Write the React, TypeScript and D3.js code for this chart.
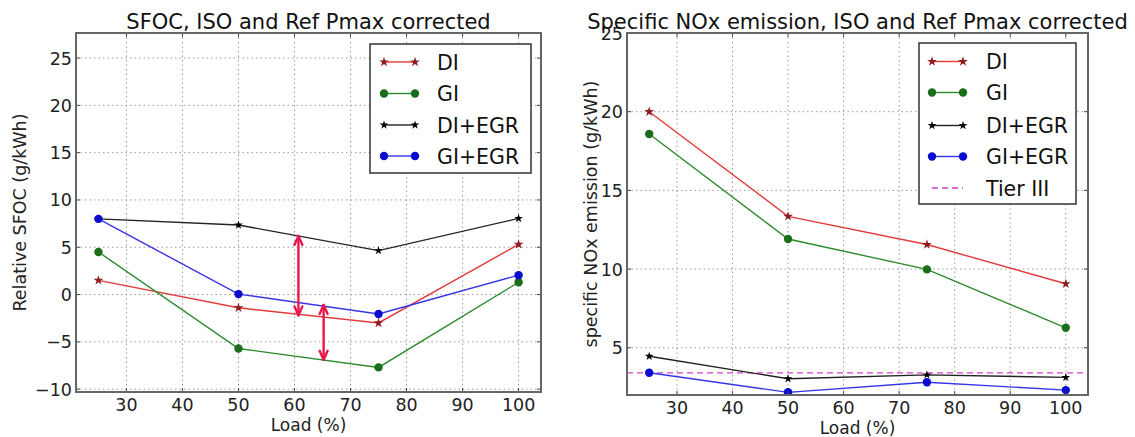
import React from "react";
import * as d3 from "d3";

const loads = [25, 50, 75, 100];
const xTicks = [30, 40, 50, 60, 70, 80, 90, 100];

// Left: relative SFOC
const sfocDI = [1.5, -1.4, -3.0, 5.3];
const sfocGI = [4.5, -5.7, -7.7, 1.3];
const sfocDIEGR = [8.0, 7.35, 4.65, 8.05];
const sfocGIEGR = [8.0, 0.05, -2.05, 2.05];
const sfocYTicks = [-10, -5, 0, 5, 10, 15, 20, 25];
const sfocArrows = [
  { x: 60.7, y1: 6.2, y2: -2.2 },
  { x: 65.2, y1: -1.1, y2: -6.9 },
];

// Right: specific NOx
const noxDI = [20.0, 13.35, 11.56, 9.07];
const noxGI = [18.58, 11.91, 9.98, 6.27];
const noxDIEGR = [4.46, 3.03, 3.28, 3.12];
const noxGIEGR = [3.41, 2.17, 2.81, 2.31];
const tierIII = 3.4;
const noxYTicks = [5, 10, 15, 20, 25];

const seriesNames = ["DI", "GI", "DI+EGR", "GI+EGR"];

const FONT = "DejaVu Sans, sans-serif";

type Style = { line: string; marker: string; kind: "star" | "circle"; size: number };
const styles: Style[] = [
  { line: "#e23a3a", marker: "#8e1c1c", kind: "star", size: 30 },
  { line: "#2b8a2b", marker: "#1a6e1a", kind: "circle", size: 4.2 },
  { line: "#222222", marker: "#000000", kind: "star", size: 24 },
  { line: "#3535e8", marker: "#0a0ad0", kind: "circle", size: 4.2 },
];

function Marker({ x, y, s }: { x: number; y: number; s: Style }) {
  if (s.kind === "circle") return <circle cx={x} cy={y} r={s.size} fill={s.marker} />;
  const p = d3.symbol().type(d3.symbolStar).size(s.size)() as string;
  return <path d={p} transform={`translate(${x},${y})`} fill={s.marker} />;
}

type PanelProps = {
  left: number; right: number; top: number; bottom: number;
  yDomain: [number, number];
  yTicks: number[];
  series: number[][];
  title: string;
  yLabel: string;
  yLabelX: number;
  legend: { x: number; y: number; w: number; h: number; lineX: number; textX: number; rows: number[] };
  tier?: number;
  arrows?: { x: number; y1: number; y2: number }[];
  titleY: number;
};

function Panel(p: PanelProps) {
  const x = d3.scaleLinear().domain([21, 104]).range([p.left, p.right]);
  const y = d3.scaleLinear().domain(p.yDomain).range([p.bottom, p.top]);
  const lineGen = d3.line<number>().x((_, i) => x(loads[i])).y((d) => y(d));
  const fmt = (v: number) => (v < 0 ? "\u2212" + Math.abs(v) : String(v));
  const cx = (p.left + p.right) / 2;
  const cy = (p.top + p.bottom) / 2;
  const clipId = "clip" + p.left;
  return (
    <g fontFamily={FONT}>
      <defs>
        <clipPath id={clipId}>
          <rect x={p.left} y={p.top} width={p.right - p.left} height={p.bottom - p.top} />
        </clipPath>
      </defs>
      {/* grid */}
      {xTicks.map((t) => (
        <line key={"gx" + t} x1={x(t)} x2={x(t)} y1={p.top} y2={p.bottom} stroke="#9a9a9a" strokeWidth={1} strokeDasharray="1.5,3" />
      ))}
      {p.yTicks.map((t) => (
        <line key={"gy" + t} x1={p.left} x2={p.right} y1={y(t)} y2={y(t)} stroke="#9a9a9a" strokeWidth={1} strokeDasharray="1.5,3" />
      ))}
      <g clipPath={`url(#${clipId})`}>
        {p.tier !== undefined && (
          <line x1={p.left} x2={p.right} y1={y(p.tier)} y2={y(p.tier)} stroke="#d040d0" strokeWidth={1.3} strokeDasharray="6,4" />
        )}
        {p.series.map((s, i) => (
          <path key={"l" + i} d={lineGen(s) as string} fill="none" stroke={styles[i].line} strokeWidth={1.4} />
        ))}
        {p.series.map((s, i) =>
          s.map((v, j) => <Marker key={`m${i}-${j}`} x={x(loads[j])} y={y(v)} s={styles[i]} />)
        )}
        {p.arrows &&
          p.arrows.map((a, i) => {
            const ax = x(a.x);
            const ya = y(a.y1);
            const yb = y(a.y2);
            return (
              <g key={"a" + i} stroke="#e8174b" strokeWidth={2.4} fill="none" strokeLinecap="round" strokeLinejoin="round">
                <line x1={ax} x2={ax} y1={ya} y2={yb} />
                <polyline points={`${ax - 4},${ya + 9} ${ax},${ya} ${ax + 4},${ya + 9}`} />
                <polyline points={`${ax - 4},${yb - 9} ${ax},${yb} ${ax + 4},${yb - 9}`} />
              </g>
            );
          })}
      </g>
      {/* ticks inward */}
      {xTicks.map((t) => (
        <g key={"tx" + t}>
          <line x1={x(t)} x2={x(t)} y1={p.bottom} y2={p.bottom - 4} stroke="#444" />
          <line x1={x(t)} x2={x(t)} y1={p.top} y2={p.top + 4} stroke="#444" />
          <text x={x(t)} y={p.bottom + 19} fontSize={17.5} textAnchor="middle" fill="#222">{t}</text>
        </g>
      ))}
      {p.yTicks.map((t) => (
        <g key={"ty" + t}>
          <line x1={p.left} x2={p.left + 4} y1={y(t)} y2={y(t)} stroke="#444" />
          <line x1={p.right} x2={p.right - 4} y1={y(t)} y2={y(t)} stroke="#444" />
          <text x={p.left - 4} y={y(t) + 6.5} fontSize={17.5} textAnchor="end" fill="#222">{fmt(t)}</text>
        </g>
      ))}
      <rect x={p.left} y={p.top} width={p.right - p.left} height={p.bottom - p.top} fill="none" stroke="#666" strokeWidth={2} />
      {/* labels */}
      <text x={cx} y={p.titleY} fontSize={21} textAnchor="middle" fill="#111">{p.title}</text>
      <text x={cx} y={p.bottom + 38.5} fontSize={17} textAnchor="middle" fill="#222">Load (%)</text>
      <text transform={`translate(${p.yLabelX},${cy}) rotate(-90)`} fontSize={17.5} textAnchor="middle" fill="#222">{p.yLabel}</text>
      {/* legend */}
      <rect x={p.legend.x} y={p.legend.y} width={p.legend.w} height={p.legend.h} fill="white" stroke="#333" strokeWidth={1.5} />
      {seriesNames.map((n, i) => {
        const ly = p.legend.rows[i];
        const lx1 = p.legend.lineX;
        const lx2 = p.legend.lineX + 31;
        return (
          <g key={"lg" + i}>
            <line x1={lx1} x2={lx2} y1={ly} y2={ly} stroke={styles[i].line} strokeWidth={1.4} />
            <Marker x={lx1} y={ly} s={styles[i]} />
            <Marker x={lx2} y={ly} s={styles[i]} />
            <text x={p.legend.textX} y={ly + 7.5} fontSize={20.5} fill="#111">{n}</text>
          </g>
        );
      })}
      {p.tier !== undefined && (
        <g>
          <line x1={p.legend.lineX} x2={p.legend.lineX + 31} y1={p.legend.rows[4]} y2={p.legend.rows[4]} stroke="#d040d0" strokeWidth={1.3} strokeDasharray="6,4" />
          <text x={p.legend.textX} y={p.legend.rows[4] + 7.5} fontSize={20.5} fill="#111">Tier III</text>
        </g>
      )}
    </g>
  );
}

export default function App() {
  return (
    <svg width={1135} height={437} style={{ position: "absolute", left: 0, top: 0, background: "white" }}>
      <rect width={1135} height={437} fill="white" />
      <Panel
        left={76} right={541} top={33} bottom={392}
        yDomain={[-10.3, 27.65]}
        yTicks={sfocYTicks}
        series={[sfocDI, sfocGI, sfocDIEGR, sfocGIEGR]}
        title="SFOC, ISO and Ref Pmax corrected"
        titleY={28.5}
        yLabel="Relative SFOC (g/kWh)"
        yLabelX={26}
        legend={{ x: 370, y: 44, w: 161, h: 129, lineX: 384, textX: 437, rows: [62, 93.5, 125, 156] }}
        arrows={sfocArrows}
      />
      <Panel
        left={627} right={1088} top={33} bottom={395}
        yDomain={[2, 25]}
        yTicks={noxYTicks}
        series={[noxDI, noxGI, noxDIEGR, noxGIEGR]}
        title="Specific NOx emission, ISO and Ref Pmax corrected"
        titleY={28.5}
        yLabel="specific NOx emission (g/kWh)"
        yLabelX={597}
        legend={{ x: 919, y: 43, w: 157, h: 161, lineX: 932, textX: 986, rows: [61.5, 92.5, 125.5, 156.5, 188] }}
        tier={tierIII}
      />
    </svg>
  );
}
